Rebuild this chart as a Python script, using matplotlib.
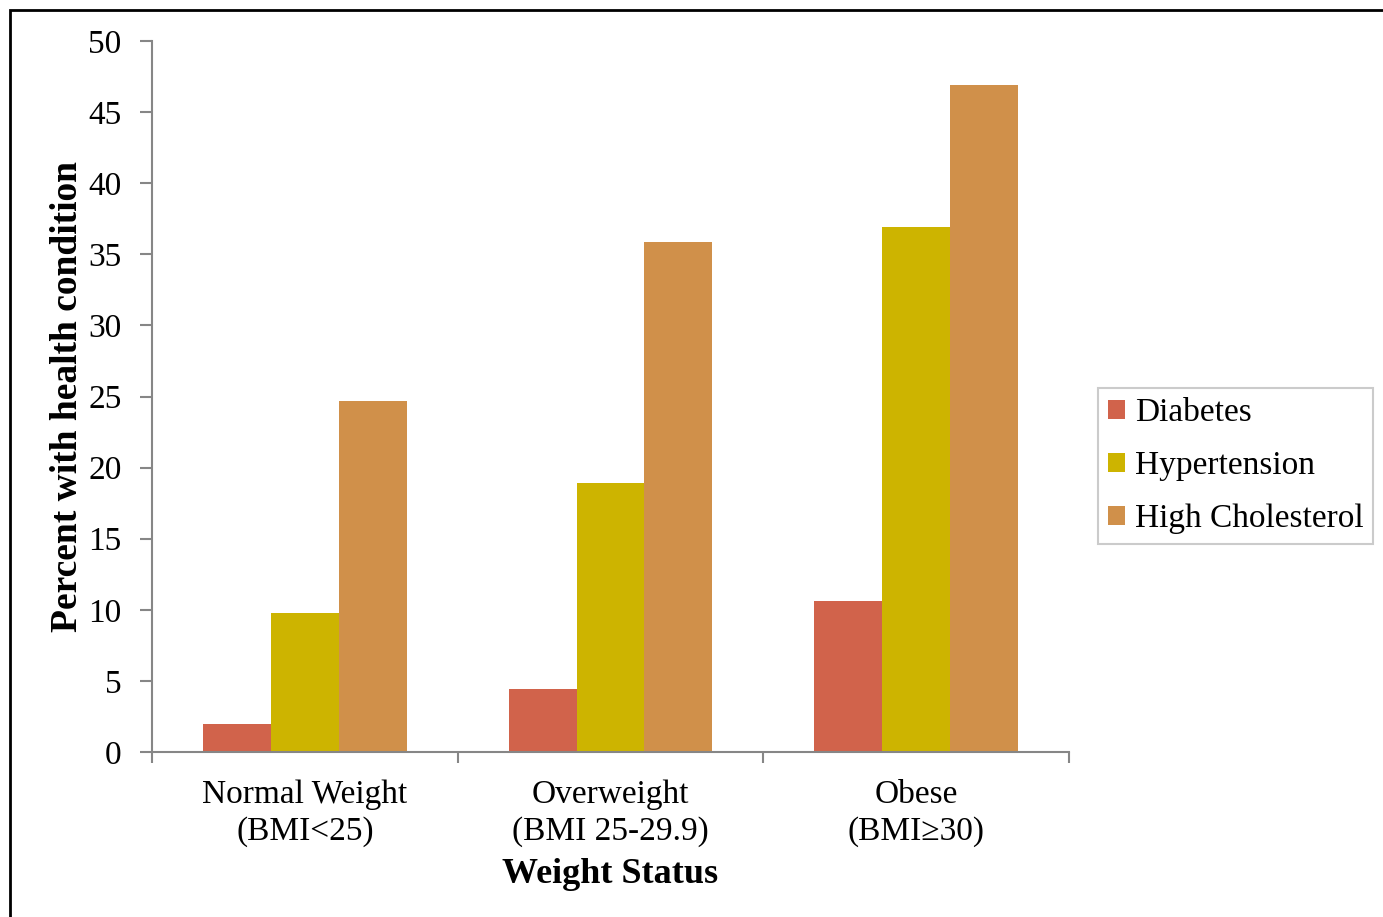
#!/usr/bin/env python3
"""Grouped bar chart: health conditions by weight status."""

import numpy as np
import matplotlib
matplotlib.use('Agg')
import matplotlib.pyplot as plt
from matplotlib.patches import Rectangle

plt.rcParams['font.family'] = ['Liberation Serif', 'DejaVu Serif']

categories = ['Normal Weight\n(BMI<25)', 'Overweight\n(BMI 25-29.9)', 'Obese\n(BMI\u226530)']
series_names = ['Diabetes', 'Hypertension', 'High Cholesterol']
diabetes = [2.0, 4.4, 10.6]
hypertension = [9.8, 18.9, 36.9]
cholesterol = [24.7, 35.9, 46.9]
colors = ['#D1634B', '#CDB400', '#D0904A']
yticks = [0, 5, 10, 15, 20, 25, 30, 35, 40, 45, 50]

W, H = 1383, 917
fig = plt.figure(figsize=(W / 100, H / 100), dpi=100)
ax = fig.add_axes([152 / W, 1 - 752 / H, (1069 - 152) / W, (752 - 41) / H])

x = np.arange(len(categories))
bw = 1 / 4.5
for i, (vals, name, col) in enumerate(zip([diabetes, hypertension, cholesterol], series_names, colors)):
    ax.bar(x + (i - 1) * bw, vals, bw, color=col, label=name, linewidth=0)

ax.set_xlim(-0.5, len(categories) - 0.5)
ax.set_ylim(0, 50)
ax.set_yticks(yticks)
ax.set_xticks(x)
ax.set_xticklabels(categories, fontsize=24, linespacing=1.25)
ax.set_xticks(np.arange(len(categories) + 1) - 0.5, minor=True)
ax.tick_params(axis='x', which='major', length=0, pad=20)
ax.tick_params(axis='x', which='minor', length=8, width=1.5, color='#868686')
ax.tick_params(axis='y', length=9, width=1.5, color='#868686', labelsize=24, pad=13)

for s in ['top', 'right']:
    ax.spines[s].set_visible(False)
for s in ['left', 'bottom']:
    ax.spines[s].set_color('#868686')
    ax.spines[s].set_linewidth(1.5)

ax.set_ylabel('Percent with health condition', fontsize=27, fontweight='bold', labelpad=2)
ax.set_xlabel('Weight Status', fontsize=26, fontweight='bold', labelpad=8)

leg = fig.legend(loc='center left', bbox_to_anchor=(1098 / W, 1 - 466 / H), fontsize=24,
                 frameon=True, fancybox=False, edgecolor='#BFBFBF', handlelength=0.5,
                 handleheight=0.5, handletextpad=0.3, labelspacing=0.68, borderpad=0.3,
                 borderaxespad=0)
leg.get_frame().set_linewidth(1.5)

# outer chart frame (only top and left visible in the crop)
fig.add_artist(Rectangle((10 / W, -0.1), 1.2, 1.1 - 10 / H, transform=fig.transFigure,
                         fill=False, edgecolor='black', linewidth=2))

fig.savefig('out.png', dpi=100)
